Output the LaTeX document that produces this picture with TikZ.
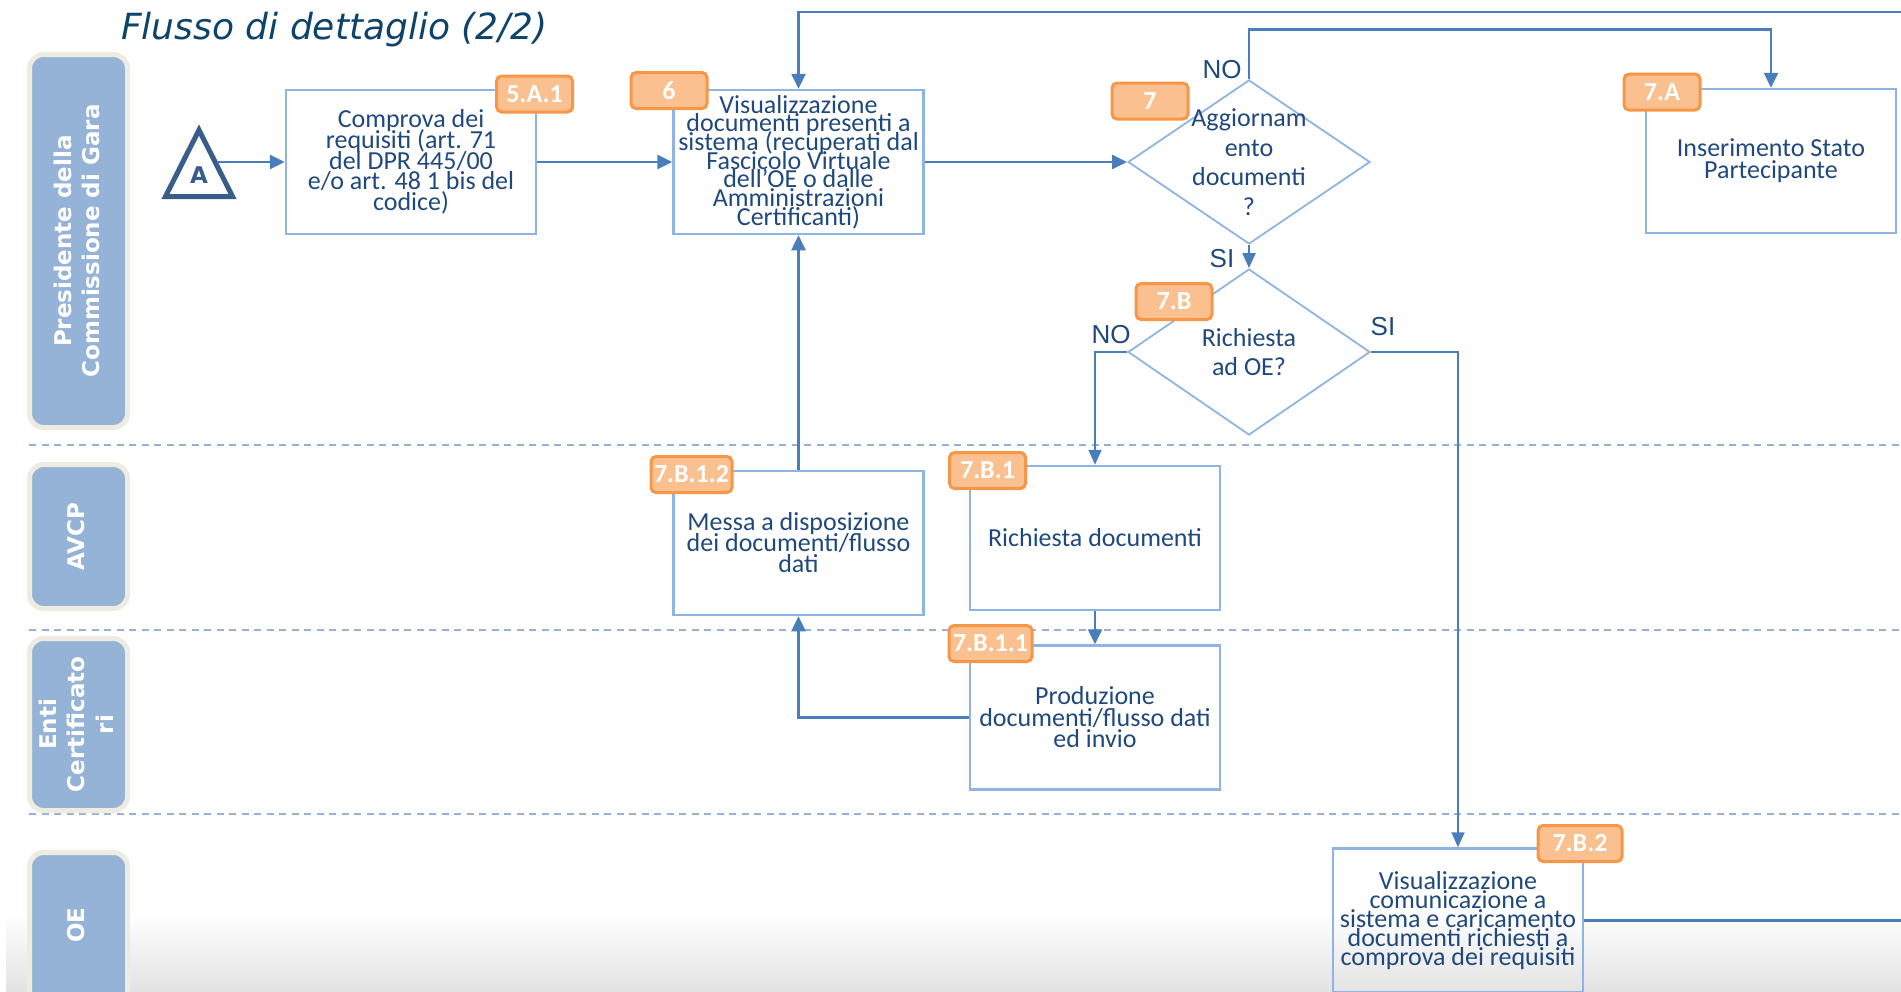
\documentclass[tikz,border=0pt]{standalone}
\usepackage{fontspec}
\setmainfont{Carlito}
\newfontfamily\dejavu{DejaVu Sans}
\newfontfamily\libsans{Liberation Sans}
\usetikzlibrary{arrows.meta,shapes.geometric}
\definecolor{boxline}{HTML}{8EB4E3}
\definecolor{conn}{HTML}{4A7EBB}
\definecolor{txt}{HTML}{1F497D}
\definecolor{badgefill}{HTML}{FAC090}
\definecolor{badgeline}{HTML}{F79646}
\definecolor{pillfill}{HTML}{95B3D7}
\definecolor{pillline}{HTML}{EEECE1}
\definecolor{dashcol}{HTML}{95B3D7}
\definecolor{tricol}{HTML}{385D8A}
\definecolor{subt}{HTML}{0E436B}
\newcommand\tightls{\setlength{\lineskiplimit}{-100pt}}
\newcommand\bx[1]{\fontsize{26}{#1}\selectfont\tightls}
\begin{document}
\begin{tikzpicture}[x=1pt,y=-1pt,
  box/.style={draw=boxline,line width=2.5pt,minimum width=250pt,minimum height=144pt,inner sep=0pt,align=center,text=txt,font=\bx{21}},
  dia/.style={diamond,draw=boxline,line width=1.8pt,minimum width=242pt,minimum height=165pt,inner sep=0pt},
  dtext/.style={align=center,text=txt,inner sep=0pt,font=\bx{29.5}},
  badge/.style={draw=badgeline,fill=badgefill,line width=3pt,rounded corners=5pt,minimum height=36pt,minimum width=76pt,inner sep=0pt,text=white,font=\bfseries\fontsize{26}{26}\selectfont},
  pill/.style={draw=pillline,fill=pillfill,line width=5pt,rounded corners=14pt,inner sep=0pt,minimum width=98pt},
  lanetxt/.style={rotate=90,text=white,align=center,inner sep=0pt,font=\dejavu\bfseries\fontsize{23}{28.5}\selectfont},
  lanesep/.style={draw=dashcol,line width=2pt,dash pattern=on 7pt off 5.5pt},
  conn/.style={draw=conn,line width=2.6pt,-{Triangle[length=15pt,width=14pt]}},
  connthin/.style={draw=conn,line width=2pt,-{Triangle[length=15pt,width=13pt]}},
  connline/.style={draw=conn,line width=2.6pt},
  yn/.style={text=txt,inner sep=0pt,font=\libsans\fontsize{26}{26}\selectfont}]
\useasboundingbox (0,0) rectangle (1901,991);
% background fade at the bottom
\shade[top color=white,bottom color=black!11] (6,912) rectangle (1901,991);
% subtitle
\node[anchor=base west,inner sep=0pt,text=subt,font=\dejavu\itshape\fontsize{36}{40}\selectfont] (subtitle) at (121,39) {Flusso di dettaglio (2/2)};
% lane separators
\draw[lanesep] (29,445) -- (1901,445);
\draw[lanesep] (29,630) -- (1901,630);
\draw[lanesep] (29,813.5) -- (1901,813.5);
% lane headers
\node[pill,minimum height=373pt] (lane1) at (78.5,241) {};
\node[lanetxt] (lane1t) at (77,241) {Presidente della\\Commissione di Gara};
\node[pill,minimum height=144pt] (lane2) at (78.5,536.5) {};
\node[lanetxt] (lane2t) at (76,537) {AVCP};
\node[pill,minimum height=172pt] (lane3) at (78.5,724.5) {};
\node[lanetxt] (lane3t) at (76,724.5) {Enti\\Certificato\\ri};
\node[pill,minimum height=200pt] (lane4) at (78.5,952.5) {};
\node[lanetxt] (lane4t) at (76,925) {OE};
% connector A
\draw[tricol,line width=5pt] (199,130) -- (165.5,196.5) -- (232.5,196.5) -- cycle;
\node[text=tricol,inner sep=0pt,font=\dejavu\bfseries\fontsize{23}{23}\selectfont] (tri) at (199,175) {A};
\coordinate (triR) at (217,162);
\coordinate (topR) at (1901,12);
\coordinate (rightR) at (1901,920.5);
% boxes
\node[box,font=\bx{20.7}] (b5A1) at (411,162) {Comprova dei\\requisiti (art. 71\\del DPR 445/00\\e/o art. 48 1 bis del\\codice)};
\node[box,font=\bx{18.7}] (b6) at (798.5,162) {Visualizzazione\\documenti presenti a\\sistema (recuperati dal\\Fascicolo Virtuale\\dell’OE o dalle\\Amministrazioni\\Certificanti)};
\node[box,font=\bx{22}] (b7A) at (1771,161) {Inserimento Stato\\Partecipante};
\node[box] (b7B1) at (1095,538) {Richiesta documenti};
\node[box] (b7B12) at (798.5,543) {Messa a disposizione\\dei documenti/flusso\\dati};
\node[box,font=\bx{21.5}] (b7B11) at (1095,717.5) {Produzione\\documenti/flusso dati\\ed invio};
\node[box,font=\bx{19}] (b7B2) at (1458,920.5) {Visualizzazione\\comunicazione a\\sistema e caricamento\\documenti richiesti a\\comprova dei requisiti};
% decisions
\node[dia,minimum height=164pt] (d7) at (1249,162) {};
\node[dtext] (d7t) at (1249,162) {Aggiornam\\ento\\documenti\\?};
\node[dia,minimum height=166pt] (d7B) at (1249,352) {};
\node[dtext] (d7Bt) at (1249,352) {Richiesta\\ad OE?};
% connectors
\draw[conn] (triR) -- (b5A1);
\draw[conn] (b5A1) -- (b6);
\draw[conn] (topR) -| (b6.north);
\draw[conn] (b6) -- (d7);
\draw[conn] (d7.north) -- ++(0,-49.5) -| (b7A.north);
\draw[connthin] (d7.south) -- (d7B.north);
\draw[connthin] (d7B.west) -| (b7B1.north);
\draw[connthin] (d7B.east) -| (b7B2.north);
\draw[conn] (b7B1) -- (b7B11);
\draw[conn] (b7B11.west) -| (b7B12.south);
\draw[conn] (b7B12) -- (b6);
\draw[connline] (b7B2.east) -- (rightR);
% badges
\node[badge] (bg5A1) at (534.5,94) {5.A.1};
\node[badge] (bg6) at (669,90.5) {6};
\node[badge] (bg7) at (1150,101) {7};
\node[badge] (bg7A) at (1662,92) {7.A};
\node[badge] (bg7B) at (1174,301.5) {7.B};
\node[badge] (bg7B1) at (987.5,470.5) {7.B.1};
\node[badge,minimum width=83pt] (bg7B11) at (990.5,643.5) {7.B.1.1};
\node[badge,minimum width=81pt] (bg7B12) at (691.5,474.5) {7.B.1.2};
\node[badge,minimum width=84pt] (bg7B2) at (1580,843.5) {7.B.2};
% branch labels
\node[yn] (no7) at (1222,70) {NO};
\node[yn] (si7) at (1222,259) {SI};
\node[yn] (no7B) at (1111,335) {NO};
\node[yn] (si7B) at (1383,327) {SI};
\end{tikzpicture}
\end{document}
